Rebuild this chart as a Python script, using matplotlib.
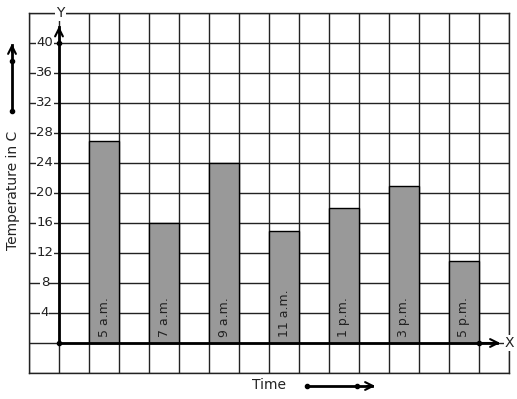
import matplotlib.pyplot as plt

times = ['5 a.m.', '7 a.m.', '9 a.m.', '11 a.m.', '1 p.m.', '3 p.m.', '5 p.m.']
temps = [27, 16, 24, 15, 18, 21, 11]
yticks = [4, 8, 12, 16, 20, 24, 28, 32, 36, 40]

fig = plt.figure(figsize=(5.17, 3.99), dpi=100)
ax = fig.add_axes([29/517, 26/399, 480/517, 360/399])
ax.set_xlim(-1, 15)
ax.set_ylim(-4, 44)

# square grid, one cell = 2 hours / 4 degrees
ax.set_xticks(range(-1, 16))
ax.set_yticks(range(-4, 45, 4))
ax.grid(True, color='#222222', linewidth=1.0)
ax.tick_params(length=0, labelbottom=False, labelleft=False)
for s in ax.spines.values():
    s.set_color('#222222')
    s.set_linewidth(1.0)
ax.set_axisbelow(True)

xpos = [1.5 + 2*i for i in range(len(times))]
ax.bar(xpos, temps, width=1, color='#999999', edgecolor='black', linewidth=1, zorder=3)
for x, t in zip(xpos, times):
    ax.text(x, 0.8, t, rotation=90, ha='center', va='bottom', fontsize=9, color='#222222', zorder=4)

# axes with arrows
ax.plot([0, 0], [0, 42.2], color='black', lw=2, zorder=5, clip_on=False)
ax.plot([0, 14.6], [0, 0], color='black', lw=2, zorder=5, clip_on=False)
ax.annotate('', xy=(0, 42.6), xytext=(0, 41), arrowprops=dict(arrowstyle='->', lw=1.5, color='black', mutation_scale=14), zorder=6)
ax.annotate('', xy=(14.8, 0), xytext=(14, 0), arrowprops=dict(arrowstyle='->', lw=1.5, color='black', mutation_scale=14), zorder=6)
ax.plot([0, 0, 14], [40, 0, 0], 'o', color='black', ms=3, zorder=6)
ax.text(0.05, 44, 'Y', ha='center', va='center', fontsize=10, color='#222222',
        bbox=dict(facecolor='white', edgecolor='none', pad=1), clip_on=False)
ax.text(15, 0, 'X', ha='center', va='center', fontsize=10, color='#222222',
        bbox=dict(facecolor='white', edgecolor='none', pad=0.5), clip_on=False)

for v in yticks:
    ax.text(-0.47, v, str(v), ha='center', va='center', fontsize=9.5, color='#222222',
            bbox=dict(facecolor='white', edgecolor='none', pad=0.3), zorder=4)

# axis titles with little direction arrows
fig.text(13/517, 1 - 190/399, 'Temperature in C', rotation=90, ha='center', va='center', fontsize=10, color='#222222')
fig.text(269/517, 1 - 385/399, 'Time', ha='center', va='center', fontsize=10, color='#222222')
fig.add_artist(plt.Line2D([12/517, 12/517], [1 - 111/399, 1 - 45/399], color='black', lw=2))
fig.add_artist(plt.Line2D([12/517, 12/517], [1 - 111/399, 1 - 61/399], color='black', marker='o', ms=3, lw=0))
ax.annotate('', xy=(12/517, 1 - 41/399), xytext=(12/517, 1 - 55/399), xycoords='figure fraction',
            arrowprops=dict(arrowstyle='->', lw=1.5, color='black', mutation_scale=14))
fig.add_artist(plt.Line2D([307/517, 372/517], [1 - 386/399, 1 - 386/399], color='black', lw=2))
fig.add_artist(plt.Line2D([307/517, 357/517], [1 - 386/399, 1 - 386/399], color='black', marker='o', ms=3, lw=0))
ax.annotate('', xy=(378/517, 1 - 386/399), xytext=(364/517, 1 - 386/399), xycoords='figure fraction',
            arrowprops=dict(arrowstyle='->', lw=1.5, color='black', mutation_scale=14))

plt.savefig('out.png', dpi=100)
